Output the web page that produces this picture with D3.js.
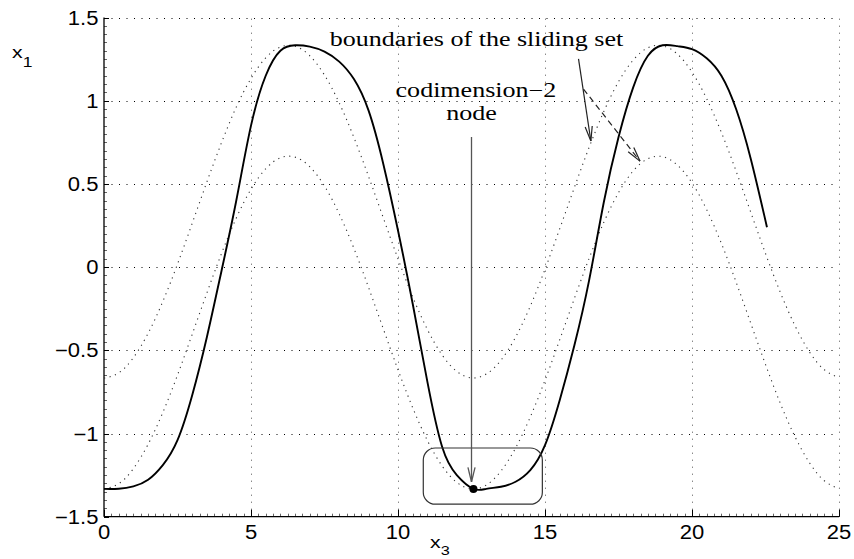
<!DOCTYPE html>
<html><head><meta charset="utf-8">
<script src="https://cdn.jsdelivr.net/npm/d3@7"></script>
<style>body{margin:0;background:#fff;} svg{display:block;}</style>
</head><body>
<svg id="c" width="854" height="559"></svg>
<script>
// ---- data ----
const xTicks = [0,5,10,15,20,25];
const xTickLabels = ["0","5","10","15","20","25"];
const yTicks = [-1.5,-1,-0.5,0,0.5,1,1.5];
const yTickLabels = ["\u22121.5","\u22121","\u22120.5","0","0.5","1","1.5"];

const boundaryX = [0,0.5,1,1.5,2,2.5,3,3.5,4,4.5,5,5.5,6,6.5,7,7.5,8,8.5,9,9.5,10,10.5,11,11.5,12,12.5,13,13.5,14,14.5,15,15.5,16,16.5,17,17.5,18,18.5,19,19.5,20,20.5,21,21.5,22,22.5,23,23.5,24,24.5,25];
const upperBoundary = [-0.667,-0.636,-0.544,-0.398,-0.207,0.018,0.263,0.512,0.749,0.962,1.134,1.258,1.323,1.327,1.270,1.154,0.987,0.779,0.544,0.296,0.050,-0.179,-0.375,-0.528,-0.627,-0.666,-0.643,-0.560,-0.421,-0.235,-0.013,0.230,0.479,0.719,0.935,1.114,1.244,1.318,1.330,1.281,1.172,1.012,0.809,0.577,0.329,0.082,-0.150,-0.351,-0.511,-0.617,-0.664];
const lowerBoundary = [-1.333,-1.302,-1.211,-1.065,-0.874,-0.649,-0.404,-0.155,0.083,0.295,0.468,0.591,0.657,0.661,0.603,0.487,0.320,0.113,-0.123,-0.371,-0.617,-0.845,-1.042,-1.195,-1.294,-1.333,-1.310,-1.226,-1.087,-0.901,-0.680,-0.437,-0.188,0.052,0.269,0.447,0.578,0.651,0.664,0.614,0.506,0.345,0.142,-0.090,-0.338,-0.585,-0.817,-1.018,-1.177,-1.284,-1.331];

const trajX = [0,0.5,1,1.5,2,2.5,3,3.5,4,4.5,5,5.5,6,6.5,7,7.5,8,8.5,9,9.5,10,10.5,11,11.5,12,12.566,13,13.5,14,14.5,15,15.5,16,16.5,17,17.5,18,18.5,19,19.5,20,20.5,21,21.5,22,22.55];
const trajY = [-1.333,-1.332,-1.318,-1.278,-1.19,-1.04,-0.77,-0.42,-0.02,0.40,0.85,1.15,1.30,1.333,1.325,1.295,1.235,1.13,0.94,0.62,0.22,-0.22,-0.69,-1.08,-1.25,-1.333,-1.333,-1.32,-1.29,-1.22,-1.07,-0.80,-0.47,-0.08,0.39,0.78,1.08,1.27,1.333,1.328,1.31,1.255,1.15,0.95,0.65,0.24];

const nodePoint = {x: 12.566, y: -1.333};

// ---- layout ----
const svg = d3.select("#c");
const x = d3.scaleLinear().domain([0,25]).range([104,839]);
const y = d3.scaleLinear().domain([-1.5,1.5]).range([516.7,17.5]);

function stretchText(g, sx){ g.attr("transform", function(){ return d3.select(this).attr("transform") + ` scale(${sx},1)`; }); }

// grid
const grid = svg.append("g").attr("stroke","#000").attr("stroke-width",1).attr("fill","none");
xTicks.forEach(t=>{ if(t>0) grid.append("line").attr("x1",Math.round(x(t))+0.5).attr("x2",Math.round(x(t))+0.5).attr("y1",y(-1.5)).attr("y2",y(1.5)).attr("stroke-dasharray","1,6").attr("stroke","#555"); });
yTicks.forEach(t=>{ if(t>-1.5) grid.append("line").attr("y1",Math.round(y(t))+0.5).attr("y2",Math.round(y(t))+0.5).attr("x1",x(0)).attr("x2",x(25)).attr("stroke-dasharray","1,6.5"); });

// minor ticks
const ax = svg.append("g").attr("stroke","#000").attr("stroke-width",1);
d3.range(0,25.001,0.25).forEach(t=>{ const px=Math.round(x(t))+0.5; ax.append("line").attr("x1",px).attr("x2",px).attr("y1",y(-1.5)).attr("y2",y(-1.5)-3).attr("stroke","#666"); });
d3.range(-1.5,1.5001,0.05).forEach(t=>{ const py=Math.round(y(t))+0.5; ax.append("line").attr("y1",py).attr("y2",py).attr("x1",x(0)).attr("x2",x(0)+3).attr("stroke","#666"); });
// major ticks
xTicks.forEach(t=>{ const px=Math.round(x(t))+0.5; ax.append("line").attr("x1",px).attr("x2",px).attr("y1",y(-1.5)).attr("y2",y(-1.5)-7); });
yTicks.forEach(t=>{ const py=Math.round(y(t))+0.5; ax.append("line").attr("y1",py).attr("y2",py).attr("x1",x(0)).attr("x2",x(0)+5); });
// axis lines
ax.append("line").attr("x1",x(0)).attr("x2",x(25)).attr("y1",y(-1.5)).attr("y2",y(-1.5)).attr("stroke-width",1.3);
ax.append("line").attr("x1",x(0)).attr("x2",x(0)).attr("y1",y(-1.5)).attr("y2",y(1.5)).attr("stroke-width",1.3);

// tick labels
const tl = svg.append("g").attr("font-family","'Liberation Sans', Arial, sans-serif").attr("font-size",19.5).attr("fill","#000");
xTicks.forEach((t,i)=>{ tl.append("text").attr("transform",`translate(${x(t)},539)`).attr("text-anchor","middle").text(xTickLabels[i]); });
yTicks.forEach((t,i)=>{ tl.append("text").attr("transform",`translate(98.5,${y(t)+7})`).attr("text-anchor","end").text(yTickLabels[i]); });
tl.selectAll("text").each(function(){ stretchText(d3.select(this),1.13); });

// axis labels
const lab = svg.append("g").attr("font-family","'Liberation Sans', Arial, sans-serif").attr("fill","#000");
const yl = lab.append("text").attr("transform","translate(12,58)");
yl.append("tspan").attr("font-size",17).text("x");
yl.append("tspan").attr("font-size",14).attr("dy",9).text("1");
stretchText(yl,1.25);
const xl = lab.append("text").attr("transform","translate(430,548)");
xl.append("tspan").attr("font-size",17).text("x");
xl.append("tspan").attr("font-size",13).attr("dy",7).text("3");
stretchText(xl,1.25);

// curves
const line = d3.line().x(d=>x(d[0])).y(d=>y(d[1])).curve(d3.curveNatural);
svg.append("path").datum(boundaryX.map((v,i)=>[v,upperBoundary[i]])).attr("d",line)
  .attr("fill","none").attr("stroke","#333").attr("stroke-width",1.1).attr("stroke-dasharray","1.2,4.5");
svg.append("path").datum(boundaryX.map((v,i)=>[v,lowerBoundary[i]])).attr("d",line)
  .attr("fill","none").attr("stroke","#333").attr("stroke-width",1.1).attr("stroke-dasharray","1.2,4.5");
svg.append("path").datum(trajX.map((v,i)=>[v,trajY[i]])).attr("d",line)
  .attr("fill","none").attr("stroke","#000").attr("stroke-width",1.9);

// annotations
const ann = svg.append("g");
function arrow(x1,y1,x2,y2,opts){
  const g = ann.append("g").attr("stroke",opts.color).attr("stroke-width",opts.w).attr("fill","none");
  g.append("line").attr("x1",x1).attr("y1",y1).attr("x2",x2).attr("y2",y2).attr("stroke-dasharray",opts.dash||null);
  const a = Math.atan2(y2-y1,x2-x1), L=15, h=0.24;
  [a+h,a-h].forEach(b=>{ g.append("line").attr("x1",x2).attr("y1",y2).attr("x2",x2-L*Math.cos(b)).attr("y2",y2-L*Math.sin(b)); });
}
ann.append("rect").attr("x",x(10.86)).attr("y",y(-1.087)).attr("width",x(14.91)-x(10.86)).attr("height",y(-1.425)-y(-1.087))
  .attr("rx",12).attr("ry",12).attr("fill","none").attr("stroke","#333").attr("stroke-width",1.2);
arrow(x(12.5),y(0.782),x(12.5),y(-1.291),{color:"#555",w:1.3});
arrow(x(16.14),y(1.251),x(16.56),y(0.758),{color:"#222",w:1.2});
arrow(x(16.31),y(1.07),x(18.23),y(0.637),{color:"#222",w:1.2,dash:"6,4"});
ann.append("circle").attr("cx",x(nodePoint.x)).attr("cy",y(nodePoint.y)).attr("r",4).attr("fill","#000");

const tt = svg.append("g").attr("font-family","'Liberation Serif','Times New Roman',serif").attr("font-size",20.5).attr("fill","#000").attr("text-anchor","middle");
[["boundaries of the sliding set",12.67,1.331],["codimension\u22122",12.65,1.020],["node",12.5,0.884]].forEach(d=>{
  const t = tt.append("text").attr("transform",`translate(${x(d[1])},${y(d[2])})`).text(d[0]);
  stretchText(t,1.27);
});
</script>
</body></html>
